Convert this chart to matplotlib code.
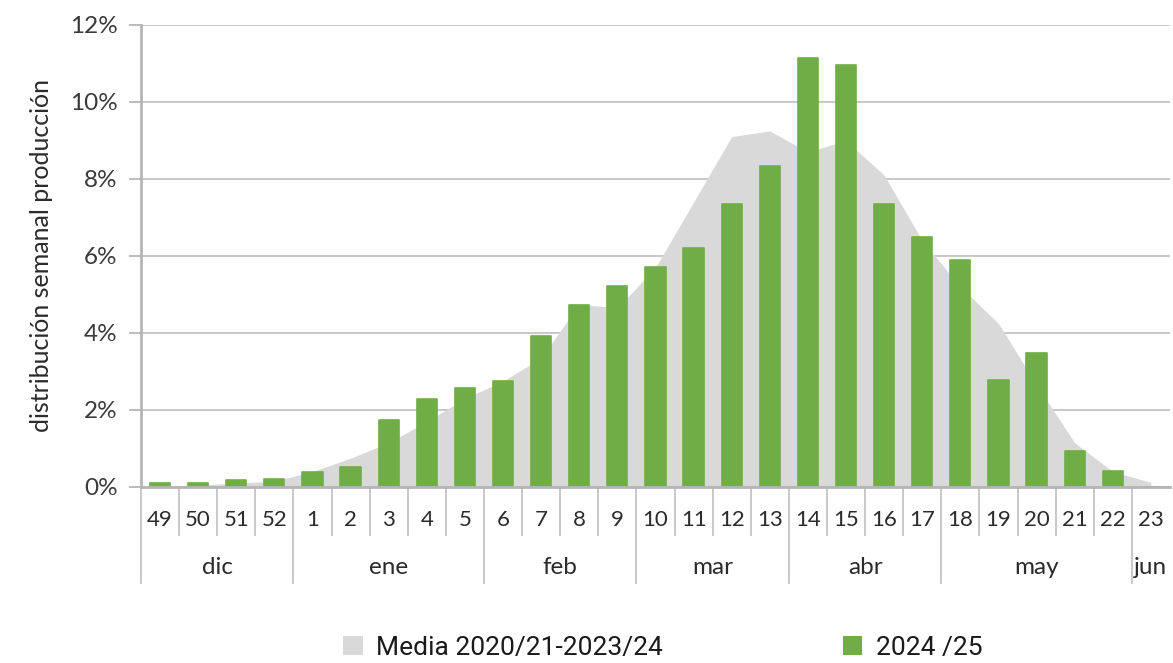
import numpy as np
import matplotlib
matplotlib.use("Agg")
from matplotlib import pyplot as plt
from matplotlib.patches import Patch
import matplotlib.transforms as mtransforms

# semanas de campaña (dic -> jun)
weeks = ["49", "50", "51", "52", "1", "2", "3", "4", "5", "6", "7", "8", "9",
         "10", "11", "12", "13", "14", "15", "16", "17", "18", "19", "20", "21", "22", "23"]
# meses y numero de semanas de cada uno
months = ["dic", "ene", "feb", "mar", "abr", "may", "jun"]
month_weeks = [4, 5, 4, 4, 4, 5, 1]

# media 2020/21-2023/24 (% produccion semanal)
media = [0.03, 0.05, 0.1, 0.15, 0.4, 0.75, 1.15, 1.7, 2.3, 2.75, 3.35, 4.75, 4.65,
         5.7, 7.4, 9.1, 9.25, 8.7, 9.0, 8.1, 6.4, 5.2, 4.25, 2.65, 1.15, 0.4, 0.12]
# campaña 2024/25
campana = [0.1, 0.1, 0.18, 0.22, 0.38, 0.53, 1.74, 2.29, 2.57, 2.75, 3.93, 4.72, 5.22,
           5.71, 6.2, 7.34, 8.35, 11.13, 10.97, 7.34, 6.5, 5.9, 2.77, 3.49, 0.93, 0.41, 0.0]

GREEN = "#70AD47"
AREA = "#D9D9D9"
GRID = "#C4C4C4"
TXT = "#2b2b2b"
FONT = ["Lato", "DejaVu Sans"]

fig = plt.figure(figsize=(11.73, 6.63), dpi=100)
ax = fig.add_axes([0.1202, 0.2655, 0.8772, 0.6968])

x = np.arange(len(weeks))
ax.fill_between(x, media, 0, color=AREA, linewidth=0, zorder=2)
ax.bar(x, campana, width=0.53, color=GREEN, edgecolor=GREEN, linewidth=1.2,
       joinstyle="round", zorder=3)

ax.set_xlim(-0.5, len(weeks) - 0.5)
ax.set_ylim(0, 12)
ax.set_yticks(np.arange(0, 13, 2))
ax.set_yticklabels(["%d%%" % v for v in range(0, 13, 2)], fontsize=17.5,
                   color="#3a3a3a", family=FONT)
ax.yaxis.grid(True, color=GRID, linewidth=1.3, zorder=1)
ax.set_axisbelow(True)
ax.tick_params(axis="y", direction="out", length=9, width=1.3, color="#B5B5B5", pad=8)
ax.set_xticks([])

for s in ["top", "right"]:
    ax.spines[s].set_visible(False)
ax.spines["left"].set_color("#B5B5B5")
ax.spines["left"].set_linewidth(2)
ax.spines["bottom"].set_color("#B5B5B5")
ax.spines["bottom"].set_linewidth(2)
ax.spines["bottom"].set_zorder(4)

ax.set_ylabel("distribución semanal producción", fontsize=18, color=TXT,
              family=FONT, labelpad=12)

# etiquetas de dos niveles en el eje x
trans = mtransforms.blended_transform_factory(ax.transData, ax.transAxes)
for i, w in enumerate(weeks):
    ax.text(i, -0.071, w, transform=trans, ha="center", va="center",
            fontsize=16, color=TXT, family=FONT)

bounds = np.cumsum([0] + month_weeks)
for i in range(len(weeks)):
    if i in bounds:
        continue
    ax.plot([i - 0.5, i - 0.5], [0, -0.104], transform=trans, color=GRID,
            linewidth=1.3, clip_on=False)
for b in bounds[:-1]:
    ax.plot([b - 0.5, b - 0.5], [0, -0.208], transform=trans, color=GRID,
            linewidth=1.3, clip_on=False)
for m, a, b in zip(months, bounds[:-1], bounds[1:]):
    ax.text((a + b - 1) / 2, -0.175, m, transform=trans, ha="center", va="center",
            fontsize=17.5, color=TXT, family=FONT)

handles = [Patch(facecolor=AREA, edgecolor="none", label="Media 2020/21-2023/24"),
           Patch(facecolor=GREEN, edgecolor="none", label="2024 /25")]
fig.legend(handles=handles, loc="center", bbox_to_anchor=(0.565, 0.023), ncol=2,
           frameon=False, handlelength=0.75, handleheight=0.75, handletextpad=0.5,
           columnspacing=6.8, prop={"family": ["Roboto", "DejaVu Sans"], "size": 19},
           labelcolor="#1a1a1a")

fig.savefig("out.png", dpi=100)
